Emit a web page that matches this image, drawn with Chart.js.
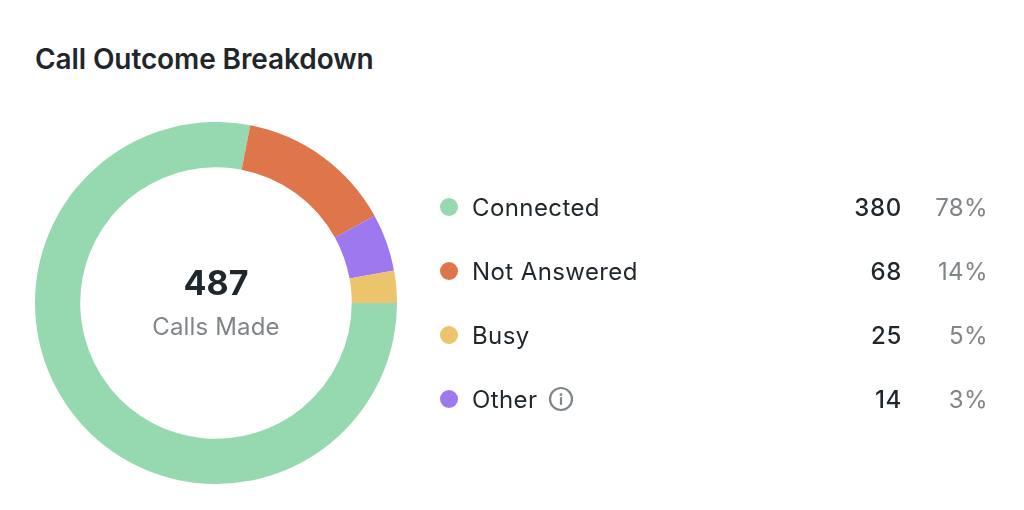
<!DOCTYPE html>
<html>
<head>
<meta charset="utf-8">
<title>Call Outcome Breakdown</title>
<script src="https://cdn.jsdelivr.net/npm/chart.js@4/dist/chart.umd.min.js"></script>
<style>
  html, body { margin: 0; padding: 0; background: #fff; width: 1024px; height: 510px; overflow: hidden; font-family: Inter, sans-serif; }
  .title { position: absolute; left: 35px; top: 42px; font-size: 28px; line-height: 34px; font-weight: 600; letter-spacing: -0.1px; color: #1f262c; white-space: nowrap; }
  .ring { position: absolute; left: 35px; top: 122px; width: 362px; height: 362px; }
  .center { position: absolute; left: 35px; width: 362px; text-align: center; white-space: nowrap; }
  .total { top: 261px; font-size: 34px; line-height: 44px; font-weight: 700; color: #1f262c; }
  .sub { top: 312px; font-size: 24px; line-height: 30px; letter-spacing: 0.15px; color: #7f8589; }
  .row { position: absolute; left: 0; width: 1024px; height: 32px; font-size: 24px; line-height: 32px; color: #1f262c; }
  .dot { position: absolute; left: 440px; top: 6px; width: 18px; height: 18px; border-radius: 50%; }
  .name { position: absolute; left: 472px; top: 0; white-space: nowrap; letter-spacing: 0.4px; }
  .count { position: absolute; right: 122px; top: 0; font-weight: 500; letter-spacing: 0.7px; }
  .pct { position: absolute; right: 36px; top: 0; color: #7f8589; letter-spacing: 0.4px; }
  .info { position: absolute; left: 548px; top: 2px; width: 26px; height: 26px; }
</style>
</head>
<body>
<div class="title">Call Outcome Breakdown</div>
<div class="ring"><canvas id="outcome-chart" width="362" height="362"></canvas></div>
<div class="center total" id="total"></div>
<div class="center sub">Calls Made</div>
<div id="legend"></div>
<script>
// Legend rows
const categories = ['Connected', 'Not Answered', 'Busy', 'Other'];
const callCounts = [380, 68, 25, 14];
const percentLabels = ['78%', '14%', '5%', '3%'];
const legendColors = ['#96d9b1', '#df754b', '#ebc46b', '#9e78ee'];
// The ring in the reference paints its third and fourth slices the other way round
const sliceColors = ['#96d9b1', '#df754b', '#9e78ee', '#ebc46b'];
const totalCalls = 487;
const rowTops = [192, 256, 320, 384];

document.getElementById('total').textContent = totalCalls;

const legendEl = document.getElementById('legend');
categories.forEach((name, i) => {
    const row = document.createElement('div');
    row.className = 'row';
    row.style.top = rowTops[i] + 'px';
    row.innerHTML = `<span class="dot" style="background:${legendColors[i]}"></span>` +
        `<span class="name">${name}</span>` +
        `<span class="count">${callCounts[i]}</span>` +
        `<span class="pct">${percentLabels[i]}</span>`;
    if (name === 'Other') {
        row.innerHTML += '<svg class="info" viewBox="0 0 26 26" fill="none">' +
            '<circle cx="13" cy="13" r="11" stroke="#7f8589" stroke-width="2.2"/>' +
            '<circle cx="13" cy="8.6" r="1.4" fill="#7f8589"/>' +
            '<path d="M13 12v6" stroke="#7f8589" stroke-width="2.2" stroke-linecap="round"/></svg>';
    }
    legendEl.appendChild(row);
});

new Chart(document.getElementById('outcome-chart'), {
    type: 'doughnut',
    data: {
        labels: categories,
        datasets: [{
            data: callCounts,
            backgroundColor: sliceColors,
            borderWidth: 0,
        }]
    },
    options: {
        responsive: false,
        animation: false,
        rotation: 90,
        cutout: '75%',
        layout: { padding: 0 },
        plugins: {
            legend: { display: false },
            tooltip: { enabled: false },
        },
    }
});
</script>
</body>
</html>
